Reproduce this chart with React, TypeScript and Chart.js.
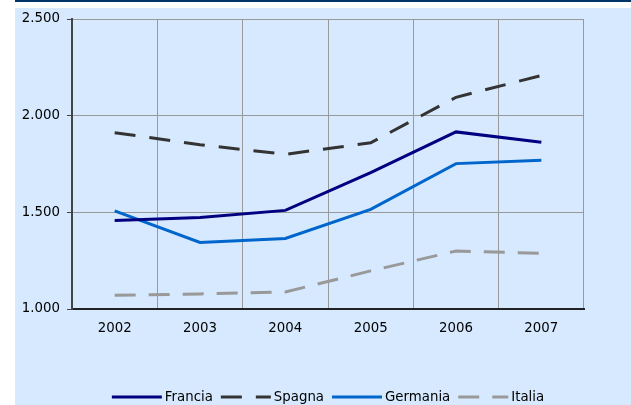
import React, { useEffect, useRef } from "react";
import { Chart, registerables } from "chart.js";

Chart.register(...registerables);

const years = ["2002", "2003", "2004", "2005", "2006", "2007"];
const francia = [1458, 1473, 1510, 1705, 1916, 1862];
const spagna = [1912, 1850, 1800, 1860, 2095, 2208];
const germania = [1508, 1344, 1365, 1515, 1752, 1770];
const italia = [1071, 1078, 1088, 1197, 1300, 1288];
const seriesNames = ["Francia", "Spagna", "Germania", "Italia"];

const FONT = '"DejaVu Sans", Verdana, sans-serif';
const FSIZE = 13.33;

const fmt = (v: number) => {
  const s = Math.round(v).toString();
  return s.replace(/\B(?=(\d{3})+(?!\d))/g, ".");
};

const legendPlugin = {
  id: "customLegend",
  afterDraw(chart: any) {
    const ctx = chart.ctx;
    ctx.save();
    ctx.font = `${FSIZE}px ${FONT}`;
    const sample = 50;
    const gapText = 3;
    const gapItem = 8;
    const items = chart.data.datasets.map((ds: any) => ({
      ds,
      w: ctx.measureText(ds.label).width,
    }));
    const total =
      items.reduce((a: number, it: any) => a + sample + gapText + it.w, 0) +
      gapItem * (items.length - 1);
    const center = (chart.chartArea.left + chart.chartArea.right) / 2;
    let x = center - total / 2;
    const y = 389;
    items.forEach((it: any) => {
      ctx.beginPath();
      ctx.setLineDash(it.ds.borderDash || []);
      ctx.lineDashOffset = 0;
      ctx.strokeStyle = it.ds.borderColor;
      ctx.lineWidth = 3;
      ctx.moveTo(x, y);
      ctx.lineTo(x + sample, y);
      ctx.stroke();
      ctx.setLineDash([]);
      ctx.fillStyle = "#000";
      ctx.textBaseline = "middle";
      ctx.textAlign = "left";
      ctx.fillText(it.ds.label, x + sample + gapText, y + 1);
      x += sample + gapText + it.w + gapItem;
    });
    ctx.restore();
  },
};

export default function App() {
  const ref = useRef<HTMLCanvasElement>(null);
  useEffect(() => {
    if (!ref.current) return;
    const chart = new Chart(ref.current, {
      type: "line",
      data: {
        labels: years,
        datasets: [
          { label: seriesNames[0], data: francia, borderColor: "#000080", borderWidth: 3 },
          { label: seriesNames[1], data: spagna, borderColor: "#333333", borderWidth: 3, borderDash: [21, 14] },
          { label: seriesNames[2], data: germania, borderColor: "#0066CC", borderWidth: 3 },
          { label: seriesNames[3], data: italia, borderColor: "#999999", borderWidth: 3, borderDash: [21, 13] },
        ].map((d) => ({ ...d, pointRadius: 0, fill: false, tension: 0, borderCapStyle: "butt" as const })),
      },
      plugins: [legendPlugin],
      options: {
        animation: false,
        responsive: false,
        devicePixelRatio: 1,
        layout: { padding: { top: 11, right: 47, left: 0, bottom: 0 } },
        plugins: { legend: { display: false }, tooltip: { enabled: false } },
        scales: {
          x: {
            offset: true,
            grid: { offset: true, color: "#999999", lineWidth: 1, drawTicks: false },
            border: { color: "#222222", width: 2 },
            ticks: { color: "#000", font: { family: FONT, size: FSIZE }, padding: 12 },
            afterFit: (s: any) => {
              s.height = 96;
              s.paddingLeft = 0;
              s.paddingRight = 0;
            },
          },
          y: {
            min: 1000,
            max: 2500,
            grid: { color: "#999999", lineWidth: 1, tickLength: 5, tickColor: "#444444" },
            border: { color: "#444444", width: 2 },
            ticks: {
              stepSize: 500,
              color: "#000",
              font: { family: FONT, size: FSIZE },
              padding: 7,
              callback: (v: any) => fmt(Number(v)),
            },
            afterFit: (s: any) => {
              s.width = 57;
              s.paddingTop = 0;
              s.paddingBottom = 0;
            },
          },
        },
      },
    });
    return () => chart.destroy();
  }, []);
  return (
    <div style={{ position: "absolute", left: 0, top: 0, width: 631, height: 405, background: "#fff", overflow: "hidden" }}>
      <div style={{ position: "absolute", left: 15, top: 0, width: 616, height: 2, background: "#003366" }} />
      <div style={{ position: "absolute", left: 15, top: 8, width: 616, height: 397, background: "#D6E9FE" }}>
        <canvas ref={ref} width={616} height={397} style={{ display: "block" }} />
      </div>
    </div>
  );
}
